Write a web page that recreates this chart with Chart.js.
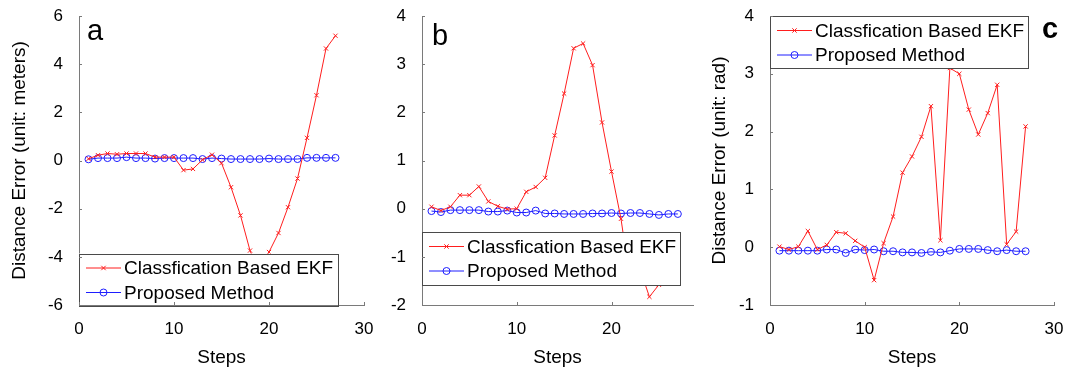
<!DOCTYPE html>
<html>
<head>
<meta charset="utf-8">
<script src="https://cdn.jsdelivr.net/npm/chart.js@4/dist/chart.umd.min.js"></script>
<style>
  html, body { margin: 0; padding: 0; background: #ffffff; }
  #wrap { position: relative; width: 1065px; height: 367px; overflow: hidden; background: #fff; }
  canvas { position: absolute; top: 0; }
</style>
</head>
<body>
<div id="wrap">
  <canvas id="ca" width="380" height="367" style="left:0px"></canvas>
  <canvas id="cb" width="320" height="367" style="left:380px"></canvas>
  <canvas id="cc" width="365" height="367" style="left:700px"></canvas>
</div>
<script>
// ---------- data ----------
const steps = [1,2,3,4,5,6,7,8,9,10,11,12,13,14,15,16,17,18,19,20,21,22,23,24,25,26,27];

const seriesNames = ['Classfication Based EKF', 'Proposed Method'];

// panel a : distance error (meters)
const ekfA = [0.07,0.22,0.29,0.26,0.29,0.29,0.29,0.14,0.14,0.14,-0.40,-0.35,0.03,0.24,-0.11,-1.11,-2.28,-3.74,-4.70,-3.80,-3.01,-1.94,-0.75,0.94,2.71,4.65,5.18];
const propA = [0.05,0.10,0.10,0.10,0.14,0.10,0.10,0.08,0.10,0.10,0.10,0.10,0.06,0.10,0.08,0.06,0.06,0.06,0.06,0.08,0.06,0.06,0.06,0.11,0.11,0.11,0.11];

// panel b
const ekfB = [0.04,-0.04,0.04,0.28,0.28,0.46,0.15,0.05,-0.01,0.00,0.35,0.45,0.64,1.52,2.39,3.33,3.43,2.98,1.79,0.77,-0.21,-1.55,-1.25,-1.83,-1.58,-1.30,-1.00];
const propB = [-0.05,-0.07,-0.03,-0.03,-0.03,-0.03,-0.06,-0.06,-0.04,-0.08,-0.08,-0.04,-0.10,-0.10,-0.11,-0.11,-0.11,-0.10,-0.10,-0.09,-0.10,-0.09,-0.09,-0.11,-0.13,-0.11,-0.11];

// panel c : (unit: rad)
const ekfC = [0.01,-0.04,0.01,0.28,-0.04,0.04,0.26,0.24,0.11,0.00,-0.57,0.07,0.53,1.29,1.57,1.91,2.44,0.12,3.10,3.00,2.38,1.95,2.32,2.81,0.05,0.27,2.09];
const propC = [-0.06,-0.06,-0.06,-0.06,-0.06,-0.04,-0.04,-0.10,-0.04,-0.05,-0.04,-0.07,-0.07,-0.09,-0.09,-0.10,-0.08,-0.09,-0.06,-0.03,-0.03,-0.03,-0.05,-0.07,-0.05,-0.07,-0.07];

const yTitleA = 'Distance Error (unit: meters)';
const yTitleC = 'Distance Error (unit: rad)';
const xTitle = 'Steps';

// ---------- styling ----------
const FONT = "'Liberation Sans', Arial, Helvetica, sans-serif";
const RED = 'rgb(255,30,30)';
const BLUE = 'rgb(30,30,255)';
const AXIS = '#7a7a7a';

function pts(xs, ys) { return xs.map((x, i) => ({ x: x, y: ys[i] })); }

function makeDatasets(ekf, prop) {
  return [
    { label: seriesNames[0], data: pts(steps, ekf), borderColor: RED, backgroundColor: RED,
      borderWidth: 1, pointStyle: 'crossRot', pointRadius: 3, pointBorderWidth: 1,
      pointBorderColor: RED, tension: 0 },
    { label: seriesNames[1], data: pts(steps, prop), borderColor: BLUE, backgroundColor: 'rgba(0,0,0,0)',
      borderWidth: 1, pointStyle: 'circle', pointRadius: 3.5, pointBorderWidth: 1,
      pointBorderColor: BLUE, pointBackgroundColor: 'rgba(0,0,0,0)', tension: 0 }
  ];
}

// inward tick marks (Matlab style)
const innerTicks = {
  id: 'innerTicks',
  afterDraw(chart) {
    const ctx = chart.ctx, ca = chart.chartArea;
    ctx.save();
    ctx.strokeStyle = AXIS; ctx.lineWidth = 1;
    const xs = chart.scales.x, ys = chart.scales.y;
    xs.ticks.forEach(t => {
      const px = Math.round(xs.getPixelForValue(t.value)) + 0.5;
      ctx.beginPath(); ctx.moveTo(px, ca.bottom); ctx.lineTo(px, ca.bottom - 3); ctx.stroke();
    });
    ys.ticks.forEach(t => {
      const py = Math.round(ys.getPixelForValue(t.value)) + 0.5;
      ctx.beginPath(); ctx.moveTo(ca.left, py); ctx.lineTo(ca.left + 3, py); ctx.stroke();
    });
    ctx.restore();
  }
};

// opaque boxed legend placed inside the axes
const boxLegend = {
  id: 'boxLegend',
  afterDatasetsDraw(chart, args, opts) {
    if (!opts || opts.left === undefined) return;
    const ctx = chart.ctx;
    const L = opts.left, T = opts.top, R = opts.right, B = opts.bottom;
    ctx.save();
    ctx.fillStyle = '#ffffff';
    ctx.fillRect(L, T, R - L, B - T);
    ctx.strokeStyle = '#4a4a4a'; ctx.lineWidth = 1;
    ctx.strokeRect(Math.round(L) + 0.5, Math.round(T) + 0.5, Math.round(R - L), Math.round(B - T));
    const rows = [14.5, 39];
    chart.data.datasets.forEach((ds, i) => {
      const y = T + rows[i];
      const x0 = L + 7, x1 = L + 42, xm = (x0 + x1) / 2;
      ctx.strokeStyle = ds.borderColor; ctx.lineWidth = 1;
      ctx.beginPath(); ctx.moveTo(x0, y); ctx.lineTo(x1, y); ctx.stroke();
      if (ds.pointStyle === 'circle') {
        ctx.beginPath(); ctx.arc(xm, y, ds.pointRadius, 0, Math.PI * 2); ctx.stroke();
      } else {
        const r = 2.2;
        ctx.beginPath();
        ctx.moveTo(xm - r, y - r); ctx.lineTo(xm + r, y + r);
        ctx.moveTo(xm - r, y + r); ctx.lineTo(xm + r, y - r);
        ctx.stroke();
      }
      ctx.fillStyle = '#000';
      ctx.font = '19px ' + FONT;
      ctx.textAlign = 'left'; ctx.textBaseline = 'middle';
      ctx.fillText(ds.label, L + 45, y + 1);
    });
    ctx.restore();
  }
};

const panelLetter = {
  id: 'panelLetter',
  afterDraw(chart, args, opts) {
    if (!opts || !opts.text) return;
    const ctx = chart.ctx;
    ctx.save();
    ctx.fillStyle = '#000';
    ctx.font = (opts.bold ? 'bold ' : '') + '29px ' + FONT;
    ctx.textAlign = 'left'; ctx.textBaseline = 'alphabetic';
    ctx.fillText(opts.text, opts.x, opts.y);
    ctx.restore();
  }
};

function makeChart(id, cfg) {
  const yScale = {
    type: 'linear', min: cfg.ymin, max: cfg.ymax,
    ticks: { stepSize: cfg.ystep, color: '#000', font: { family: FONT, size: 17 }, padding: 16,
             callback: v => String(v) },
    grid: { display: true, drawOnChartArea: false, drawTicks: false },
    border: { display: true, color: AXIS, width: 1 },
    title: cfg.ytitle ? { display: true, text: cfg.ytitle, color: '#000',
             font: { family: FONT, size: 19, lineHeight: 1 }, padding: { top: 10, bottom: 0 } }
           : { display: false },
    afterFit(s) { s.width = cfg.yWidth; s.paddingTop = 0; s.paddingBottom = 0; }
  };
  const xScale = {
    type: 'linear', min: 0, max: cfg.xmax,
    ticks: { stepSize: 10, includeBounds: cfg.xBounds, color: '#000', font: { family: FONT, size: 17 },
             padding: 14, maxRotation: 0, callback: v => String(v) },
    grid: { display: true, drawOnChartArea: false, drawTicks: false },
    border: { display: true, color: AXIS, width: 1 },
    title: { display: true, text: xTitle, color: '#000',
             font: { family: FONT, size: 19, lineHeight: 1 }, padding: { top: 0, bottom: 0 } },
    afterFit(s) { s.height = 62; s.paddingLeft = 0; s.paddingRight = 0; }
  };
  return new Chart(document.getElementById(id), {
    type: 'line',
    data: { datasets: makeDatasets(cfg.ekf, cfg.prop) },
    options: {
      responsive: false, animation: false, devicePixelRatio: 1,
      layout: { padding: { left: 0, top: 16, right: cfg.padRight, bottom: 0 } },
      scales: { x: xScale, y: yScale },
      plugins: {
        legend: { display: false }, tooltip: { enabled: false },
        boxLegend: cfg.legend,
        panelLetter: cfg.letter
      }
    },
    plugins: [innerTicks, boxLegend, panelLetter]
  });
}

makeChart('ca', {
  ekf: ekfA, prop: propA, ymin: -6, ymax: 6, ystep: 2, xmax: 30, xBounds: true,
  ytitle: yTitleA, yWidth: 79, padRight: 16,
  legend: { left: 79, top: 253.5, right: 338, bottom: 305 },
  letter: { text: 'a', x: 87, y: 40 }
});
makeChart('cb', {
  ekf: ekfB, prop: propB, ymin: -2, ymax: 4, ystep: 1, xmax: 28.6, xBounds: false,
  ytitle: null, yWidth: 42, padRight: 7,
  legend: { left: 42, top: 232, right: 300, bottom: 285 },
  letter: { text: 'b', x: 52, y: 45 }
});
makeChart('cc', {
  ekf: ekfC, prop: propC, ymin: -1, ymax: 4, ystep: 1, xmax: 30, xBounds: true,
  ytitle: yTitleC, yWidth: 70, padRight: 11,
  legend: { left: 70, top: 16, right: 328, bottom: 68 },
  letter: { text: 'c', x: 342, y: 38, bold: true }
});
</script>
</body>
</html>
